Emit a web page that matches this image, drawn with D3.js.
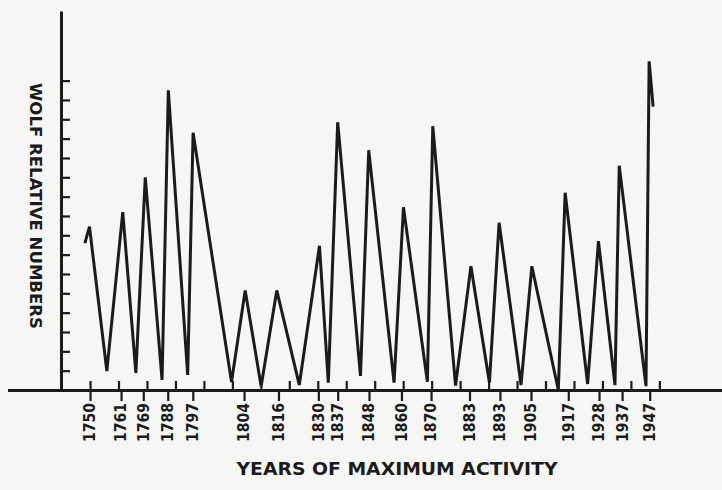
<!DOCTYPE html>
<html>
<head>
<meta charset="utf-8">
<script src="https://cdn.jsdelivr.net/npm/d3@7"></script>
<style>
  html, body { margin: 0; padding: 0; background: #f6f6f4; }
  svg { display: block; }
</style>
</head>
<body>
<svg id="chart" width="722" height="490"></svg>
<script>
// ---- data ----
// vertices of the zig-zag line (year position, Wolf relative number)
const vertexYears = [1748.2, 1749.8, 1755.9, 1761.5, 1766.1, 1769.4, 1775.3, 1777.5, 1784.3, 1786.2,
  1799.7, 1804.5, 1810.1, 1815.6, 1823.5, 1830.6, 1833.7, 1837.0, 1845.0, 1847.9,
  1856.8, 1860.1, 1868.5, 1870.4, 1878.4, 1883.8, 1890.3, 1893.7, 1901.4, 1905.2,
  1914.5, 1916.9, 1924.8, 1928.6, 1934.4, 1935.9, 1945.3, 1946.4, 1947.8];
const wolfNumbers = [76, 84.5, 9.8, 92, 8.8, 110, 5.2, 155, 7.8, 133,
  4.1, 51.5, 2, 51.5, 2.6, 74.6, 3.8, 138.5, 7.3, 124,
  3.8, 94.5, 4.3, 136.4, 2.3, 64, 3.8, 86.5, 2.6, 64,
  0, 102, 3.1, 77, 2.6, 116, 2, 170, 146.6];
// labelled ticks below the axis (years of maximum activity)
const maxTickYears = [1750, 1760.9, 1768.7, 1777.3, 1786.1, 1804.1, 1816.2, 1830.2, 1837, 1848,
  1859.4, 1869.8, 1883.3, 1894, 1904.9, 1918, 1928.8, 1936.9, 1946.6];
const maxTickLabels = ["1750", "1761", "1769", "1788", "1797", "1804", "1816", "1830", "1837", "1848",
  "1860", "1870", "1883", "1893", "1905", "1917", "1928", "1937", "1947"];
// unlabelled decade ticks above the axis
const decadeTicks = [1750, 1760, 1770, 1780, 1790, 1800, 1810, 1820, 1830, 1840, 1850,
  1860, 1870, 1880, 1890, 1900, 1910, 1920, 1930, 1940, 1950];
// unlabelled y ticks
const yTicks = [10, 20, 30, 40, 50, 60, 70, 80, 90, 100, 110, 120, 130, 140, 150, 160];
const xDomain = [1739.8, 1972];
const xAxisExtent = [1721, 1974];
const yDomain = [0, 196];
const yLabel = "WOLF RELATIVE NUMBERS";
const xLabel = "YEARS OF MAXIMUM ACTIVITY";

// ---- layout ----
const ink = "#1b1b1b";
const L = { left: 61, right: 722, base: 390, top: 11 };

const svg = d3.select("#chart");
const x = d3.scaleLinear().domain(xDomain).range([L.left, L.right]);
const y = d3.scaleLinear().domain(yDomain).range([L.base, L.top]);

// x-axis base line (extends left past the y axis)
const xLine = x.copy().domain(xAxisExtent).range(xAxisExtent.map(x));
svg.append("g")
  .attr("transform", `translate(0,${L.base})`)
  .call(d3.axisBottom(xLine).tickValues([]).tickSizeOuter(0))
  .call(g => g.select(".domain").attr("stroke", ink).attr("stroke-width", 3));

// decade ticks above
svg.append("g")
  .attr("transform", `translate(0,${L.base})`)
  .call(d3.axisTop(x).tickValues(decadeTicks).tickSize(9).tickFormat(""))
  .call(g => g.select(".domain").remove())
  .call(g => g.selectAll(".tick line").attr("stroke", ink).attr("stroke-width", 2.2));

// labelled ticks below
const gMax = svg.append("g")
  .attr("transform", `translate(0,${L.base})`)
  .call(d3.axisBottom(x).tickValues(maxTickYears).tickSize(11).tickFormat(""))
  .call(g => g.select(".domain").remove())
  .call(g => g.selectAll(".tick line").attr("stroke", ink).attr("stroke-width", 2.2));

gMax.selectAll(".tick")
  .append("text")
  .text((d, i) => maxTickLabels[i])
  .attr("transform", "translate(-1,13) rotate(-90)")
  .attr("text-anchor", "end")
  .attr("dy", "0.37em")
  .attr("textLength", 39)
  .attr("lengthAdjust", "spacingAndGlyphs")
  .attr("fill", ink)
  .attr("stroke", "none")
  .style("font-family", "'DejaVu Sans', sans-serif")
  .style("font-weight", "bold")
  .style("font-size", "16px");

// y axis
svg.append("g")
  .attr("transform", `translate(${L.left},0)`)
  .call(d3.axisRight(y).tickValues(yTicks).tickSize(9).tickSizeOuter(0).tickFormat(""))
  .call(g => g.select(".domain").attr("stroke", ink).attr("stroke-width", 3))
  .call(g => g.selectAll(".tick line").attr("stroke", ink).attr("stroke-width", 2.2));

// data line
const line = d3.line()
  .x((d, i) => x(vertexYears[i]))
  .y(d => y(d));
svg.append("path")
  .datum(wolfNumbers)
  .attr("d", line)
  .attr("fill", "none")
  .attr("stroke", ink)
  .attr("stroke-width", 3)
  .attr("stroke-linejoin", "miter")
  .attr("stroke-miterlimit", 4);

// axis titles
svg.append("text")
  .text(yLabel)
  .attr("transform", "translate(35,206) rotate(90)")
  .attr("text-anchor", "middle")
  .attr("dy", "0.35em")
  .attr("textLength", 246)
  .attr("lengthAdjust", "spacingAndGlyphs")
  .attr("fill", ink)
  .style("font-family", "'DejaVu Sans', sans-serif")
  .style("font-weight", "bold")
  .style("font-size", "15px");

svg.append("text")
  .text(xLabel)
  .attr("x", 397)
  .attr("y", 475)
  .attr("text-anchor", "middle")
  .attr("textLength", 321)
  .attr("lengthAdjust", "spacingAndGlyphs")
  .attr("fill", ink)
  .style("font-family", "'DejaVu Sans', sans-serif")
  .style("font-weight", "bold")
  .style("font-size", "18px");
</script>
</body>
</html>
